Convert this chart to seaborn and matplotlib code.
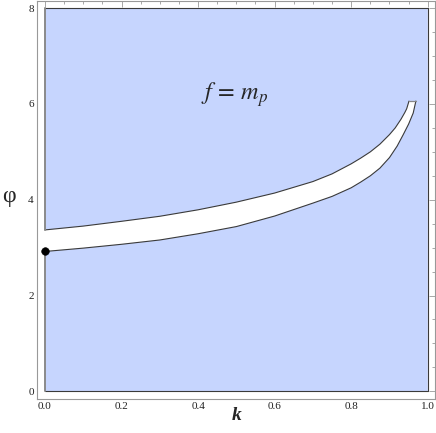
import numpy as np
import pandas as pd
import seaborn as sns
import matplotlib
matplotlib.use("Agg")
import matplotlib.pyplot as plt

# ---- data ----
k_upper = [0.0, 0.1, 0.2, 0.3, 0.4, 0.5, 0.6, 0.7, 0.75, 0.8, 0.825, 0.85, 0.875,
           0.9, 0.915, 0.93, 0.94, 0.945, 0.951]
phi_upper = [3.37, 3.45, 3.55, 3.655, 3.79, 3.95, 4.14, 4.38, 4.54, 4.75, 4.87, 5.0, 5.16,
             5.36, 5.5, 5.68, 5.82, 5.9, 6.06]
k_lower = [0.0, 0.1, 0.2, 0.3, 0.4, 0.5, 0.6, 0.7, 0.75, 0.8, 0.825, 0.85, 0.875,
           0.9, 0.92, 0.936, 0.95, 0.962, 0.969]
phi_lower = [2.92, 2.99, 3.07, 3.16, 3.29, 3.44, 3.66, 3.93, 4.07, 4.25, 4.37, 4.5, 4.66,
             4.88, 5.12, 5.36, 5.58, 5.81, 6.06]
k_range = [0.0, 1.0]
phi_range = [0.0, 8.0]
point_k = [0.0]
point_phi = [2.92]
x_ticks = [0.0, 0.2, 0.4, 0.6, 0.8, 1.0]
x_ticklabels = ["0.0", "0.2", "0.4", "0.6", "0.8", "1.0"]
y_ticks = [0, 2, 4, 6, 8]
y_ticklabels = ["0", "2", "4", "6", "8"]
annotation = r"$f\,=\,m_p$"

sns.set_theme(style="white")
plt.rcParams["font.family"] = ["Liberation Serif", "DejaVu Serif"]
plt.rcParams["mathtext.fontset"] = "stix"

fig = plt.figure(figsize=(4.36, 4.33), dpi=100)
ax = fig.add_axes([37.3 / 436, 34 / 433, (435.4 - 37.3) / 436, (399 - 0.5) / 433])
ax.set_facecolor("white")

blue = "#c6d5fe"
edge = "#3a3a3a"

# region polygon: rectangle with the band cut in from the left edge
poly_k = ([k_range[0], k_range[1], k_range[1], k_range[0]]
          + list(k_upper) + list(k_lower[::-1]))
poly_phi = ([phi_range[0], phi_range[0], phi_range[1], phi_range[1]]
            + list(phi_upper) + list(phi_lower[::-1]))
ax.fill(poly_k, poly_phi, facecolor=blue, edgecolor="none", zorder=1)

def seg(xs, ys, color, lw):
    sns.lineplot(x=xs, y=ys, sort=False, estimator=None, errorbar=None,
                 color=color, lw=lw, ax=ax, zorder=3)

# boundaries
seg(k_upper, phi_upper, edge, 0.8)
seg(k_lower, phi_lower, edge, 0.8)
seg([k_upper[-1], k_lower[-1]], [phi_upper[-1], phi_lower[-1]], "#888888", 0.9)
seg([k_range[0], k_range[1], k_range[1], k_range[0]],
    [phi_range[0], phi_range[0], phi_range[1], phi_range[1]], edge, 0.8)
seg([k_range[0], k_range[0]], [phi_range[1], phi_upper[0]], "#8a8a8a", 1.4)
seg([k_range[0], k_range[0]], [phi_lower[0], phi_range[0]], "#8a8a8a", 1.4)

sns.scatterplot(x=point_k, y=point_phi, color="black", s=30, edgecolor="black",
                ax=ax, zorder=5)

ax.text(0.496, 6.19, annotation, fontsize=17.5, ha="center", va="center", zorder=6)

ax.set_xlim(-0.02, 1.02)
ax.set_ylim(-0.16, 8.16)
ax.set_xticks(x_ticks)
ax.set_xticklabels(x_ticklabels)
ax.set_yticks(y_ticks)
ax.set_yticklabels(y_ticklabels)
ax.set_xticks(np.arange(0, 1.0001, 0.05), minor=True)
ax.set_yticks(np.arange(0, 8.0001, 0.5), minor=True)

frame = "#999999"
for s in ax.spines.values():
    s.set_color(frame)
    s.set_linewidth(0.8)
ax.tick_params(which="both", direction="in", top=True, right=True, color=frame,
               labelsize=8, labelcolor="#222222", width=0.6)
ax.tick_params(which="major", length=4, pad=2.5)
ax.tick_params(which="minor", length=2)

ax.set_xlabel("k", fontsize=14, fontstyle="italic", fontweight="bold", labelpad=-3)
ax.set_ylabel("φ", fontsize=17, rotation=0, va="center", ha="center")
ax.yaxis.set_label_coords(-0.072, 0.507)

fig.savefig("out.png", dpi=100)
